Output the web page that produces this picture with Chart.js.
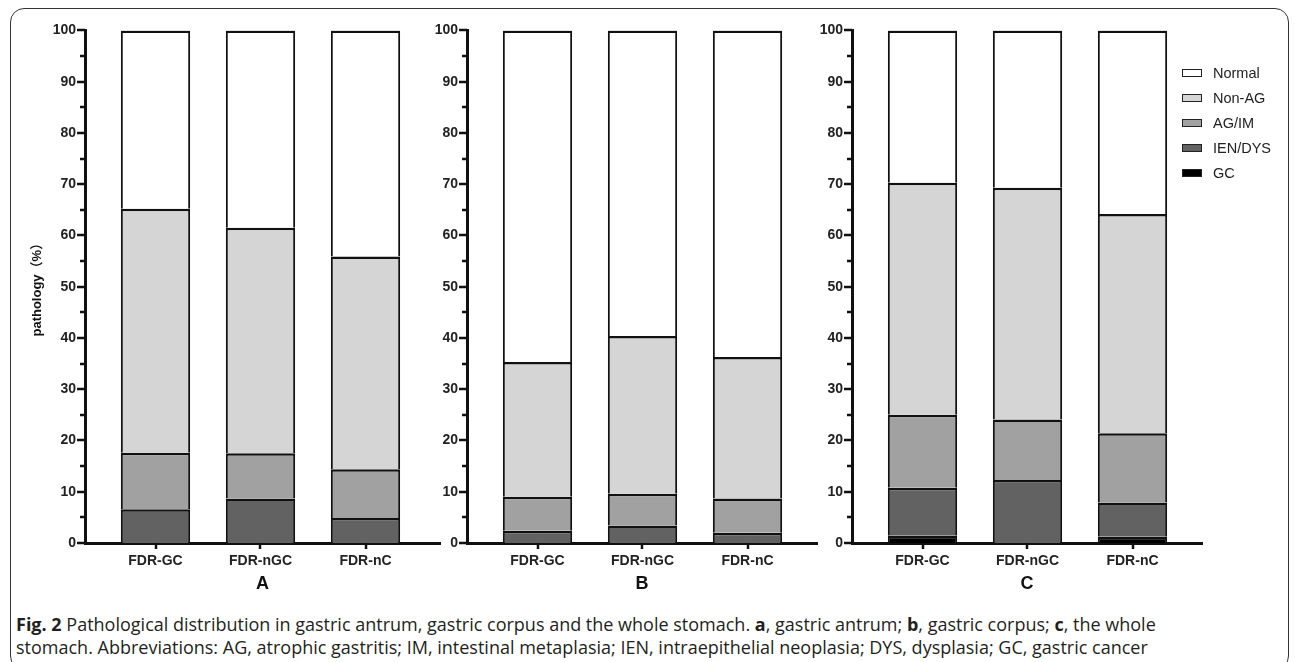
<!DOCTYPE html>
<html>
<head>
<meta charset="utf-8">
<title>Fig. 2 pathology</title>
<script src="https://cdn.jsdelivr.net/npm/chart.js@4.4.1/dist/chart.umd.min.js"></script>
<style>
  body { margin: 0; width: 1295px; height: 662px; overflow: hidden; position: relative; background: #fff; font-family: "Liberation Sans", Arial, sans-serif; }
  #frame { position: absolute; left: 10px; top: 8px; width: 1279px; height: 662px; border: 1.5px solid #333; border-radius: 14px; box-sizing: border-box; }
  .panel { position: absolute; top: 13px; height: 582px; }
  #legend { position: absolute; left: 1182px; top: 60px; }
  .item { display: flex; align-items: center; height: 25px; font-size: 14.5px; color: #222; }
  .box { width: 20px; height: 8px; border: 1.5px solid #222; box-sizing: border-box; margin-right: 11px; }
  #caption { position: absolute; left: 16px; top: 613px; font-family: "Open Sans", sans-serif; font-size: 18px; line-height: 23px; color: #231f20; white-space: nowrap; }
</style>
</head>
<body>
<div id="frame"></div>
<div class="panel" id="wrapA"><canvas id="panelA"></canvas></div>
<div class="panel" id="wrapB"><canvas id="panelB"></canvas></div>
<div class="panel" id="wrapC"><canvas id="panelC"></canvas></div>
<div id="legend"></div>
<div id="caption"><b>Fig. 2</b> Pathological distribution in gastric antrum, gastric corpus and the whole stomach. <b>a</b>, gastric antrum; <b>b</b>, gastric corpus; <b>c</b>, the whole<br>stomach. Abbreviations: AG, atrophic gastritis; IM, intestinal metaplasia; IEN, intraepithelial neoplasia; DYS, dysplasia; GC, gastric cancer</div>

<script>
const categories = ['FDR-GC', 'FDR-nGC', 'FDR-nC'];
const seriesNames = ['GC', 'IEN/DYS', 'AG/IM', 'Non-AG', 'Normal'];
const seriesColors = ['#000000', '#626262', '#a1a1a1', '#d5d5d5', '#ffffff'];

// A - gastric antrum (%)
const antrumGC = [0, 0, 0];
const antrumIEN = [6.6, 8.7, 4.9];
const antrumAG = [11.0, 8.8, 9.5];
const antrumNonAG = [47.6, 44.0, 41.5];
const antrumNormal = [34.8, 38.5, 44.1];

// B - gastric corpus (%)
const corpusGC = [0, 0, 0];
const corpusIEN = [2.4, 3.4, 2.0];
const corpusAG = [6.6, 6.2, 6.7];
const corpusNonAG = [26.3, 30.8, 27.6];
const corpusNormal = [64.7, 59.6, 63.7];

// C - whole stomach (%)
const wholeGC = [1.4, 0, 1.2];
const wholeIEN = [9.4, 12.3, 6.7];
const wholeAG = [14.2, 11.8, 13.5];
const wholeNonAG = [45.3, 45.2, 42.8];
const wholeNormal = [29.7, 30.7, 35.8];

// draws the axis tick marks (long at 10s, short at 5s)
const tickMarks = {
  id: 'tickMarks',
  afterDraw(chart) {
    const { ctx, chartArea, scales } = chart;
    ctx.save();
    ctx.strokeStyle = '#111';
    ctx.lineWidth = 2.5;
    ctx.beginPath();
    scales.y.ticks.forEach(t => {
      const py = Math.round(scales.y.getPixelForValue(t.value));
      const len = t.value % 10 === 0 ? 8 : 5;
      ctx.moveTo(chartArea.left - len, py);
      ctx.lineTo(chartArea.left, py);
    });
    scales.x.ticks.forEach(t => {
      const px = Math.round(scales.x.getPixelForValue(t.value));
      ctx.moveTo(px, chartArea.bottom);
      ctx.lineTo(px, chartArea.bottom + 6);
    });
    ctx.stroke();
    ctx.restore();
  }
};

function makePanel(id, wrapId, series, letter, axisX, span, yTitle) {
  const yWidth = 65;
  const wrap = document.getElementById(wrapId);
  wrap.style.left = (axisX - yWidth) + 'px';
  wrap.style.width = (yWidth + span + 5) + 'px';

  const unit = 105;
  const xMin = 1 - 70.5 / unit;
  const xMax = xMin + span / unit;

  const datasets = series.map((vals, i) => ({
    label: seriesNames[i],
    data: vals.map((v, j) => ({ x: j + 1, y: v })),
    backgroundColor: seriesColors[i],
    borderColor: '#111',
    borderWidth: { top: 2.5, left: 2, right: 2, bottom: 0 },
    borderSkipped: false,
    barPercentage: 0.66,
    categoryPercentage: 1
  }));

  new Chart(document.getElementById(id), {
    type: 'bar',
    data: { datasets },
    plugins: [tickMarks],
    options: {
      responsive: true,
      maintainAspectRatio: false,
      animation: false,
      layout: { padding: { top: 3, right: 5, bottom: 0, left: 0 } },
      plugins: { legend: { display: false }, tooltip: { enabled: false } },
      scales: {
        x: {
          type: 'linear',
          stacked: true,
          offset: false,
          min: xMin,
          max: xMax,
          grid: { display: false, drawTicks: false },
          border: { display: true, width: 3, color: '#111' },
          afterBuildTicks: s => { s.ticks = categories.map((c, k) => ({ value: k + 1 })); },
          afterFit: s => { s.height = 52; },
          ticks: {
            padding: 10,
            autoSkip: false,
            maxRotation: 0,
            color: '#222',
            font: { family: '"Liberation Sans", Arial', size: 14, weight: 'bold' },
            callback: v => categories[v - 1]
          },
          title: {
            display: true,
            text: letter,
            color: '#111',
            padding: { top: 0, bottom: 0 },
            font: { family: '"Liberation Sans", Arial', size: 18, weight: 'bold' }
          }
        },
        y: {
          stacked: true,
          min: 0,
          max: 100,
          grid: { display: false, drawTicks: false },
          border: { display: true, width: 3, color: '#111' },
          afterFit: s => { s.width = yWidth; },
          ticks: {
            stepSize: 5,
            padding: 9,
            autoSkip: false,
            color: '#222',
            font: { family: '"Liberation Sans", Arial', size: 14, weight: 'bold' },
            callback: v => (v % 10 === 0 ? v : '')
          },
          title: {
            display: yTitle,
            text: 'pathology（%）',
            color: '#111',
            padding: { top: 10, bottom: 0 },
            font: { family: '"Liberation Sans", Arial, "Noto Sans CJK SC"', size: 13, weight: 'bold' }
          }
        }
      }
    }
  });
}

makePanel('panelA', 'wrapA', [antrumGC, antrumIEN, antrumAG, antrumNonAG, antrumNormal], 'A', 85, 355, true);
makePanel('panelB', 'wrapB', [corpusGC, corpusIEN, corpusAG, corpusNonAG, corpusNormal], 'B', 467, 350, false);
makePanel('panelC', 'wrapC', [wholeGC, wholeIEN, wholeAG, wholeNonAG, wholeNormal], 'C', 852, 350, false);

// legend, top to bottom as in the figure
const legend = document.getElementById('legend');
seriesNames.map((n, i) => i).reverse().forEach(i => {
  const item = document.createElement('div');
  item.className = 'item';
  item.innerHTML = '<span class="box" style="background:' + seriesColors[i] + '"></span>' + seriesNames[i];
  legend.appendChild(item);
});
</script>
</body>
</html>
